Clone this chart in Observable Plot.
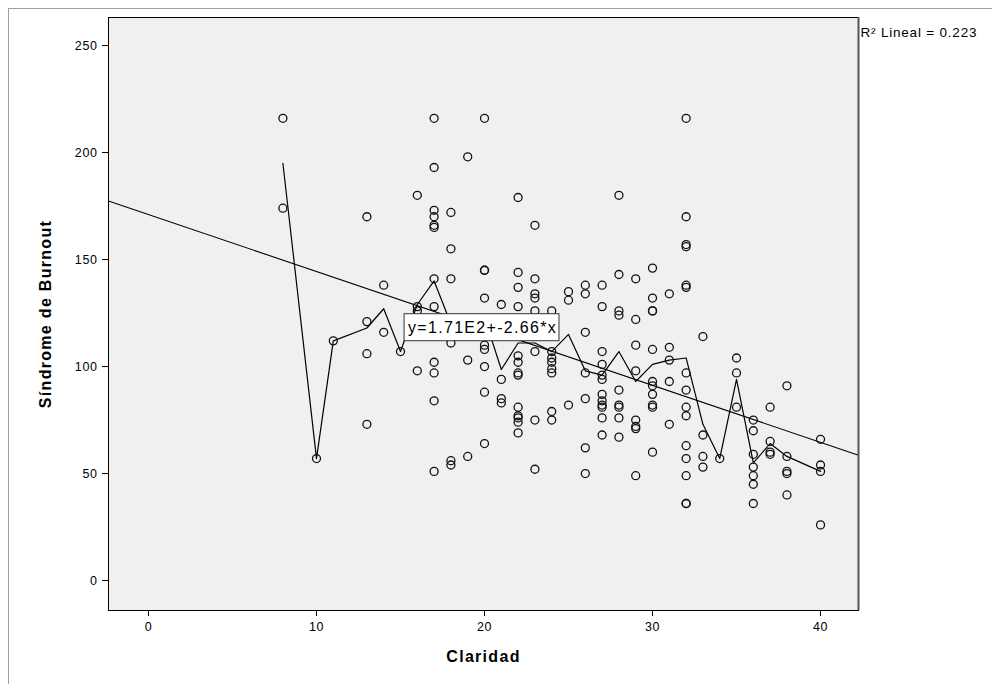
<!DOCTYPE html>
<html><head><meta charset="utf-8">
<script src="https://cdn.jsdelivr.net/npm/d3@7"></script>
<script src="https://cdn.jsdelivr.net/npm/@observablehq/plot@0.6"></script>
<style>
body{margin:0;background:#fff;}
#chart svg{display:block;font-family:"Liberation Sans",Arial,sans-serif;}
</style>
</head><body><div id="chart"></div>
<script>
// Claridad (x) and Síndrome de Burnout (y) for each respondent
const claridad = [
  8,8,
  10,
  11,
  13,13,13,13,
  14,14,
  15,
  16,16,16,16,
  17,17,17,17,17,17,17,17,17,17,17,17,
  18,18,18,18,18,18,
  19,19,19,
  20,20,20,20,20,20,20,20,20,
  21,21,21,21,
  22,22,22,22,22,22,22,22,22,22,22,22,22,
  23,23,23,23,23,23,23,23,
  24,24,24,24,24,24,24,24,
  25,25,25,
  26,26,26,26,26,26,26,
  27,27,27,27,27,27,27,27,27,27,27,27,
  28,28,28,28,28,28,28,28,28,
  29,29,29,29,29,29,29,29,
  30,30,30,30,30,30,30,30,30,30,30,
  31,31,31,31,31,
  32,32,32,32,32,32,32,32,32,32,32,32,32,32,32,
  33,33,33,33,
  34,
  35,35,35,
  36,36,36,36,36,36,36,
  37,37,37,37,
  38,38,38,38,38,
  40,40,40,40
];
const burnout = [
  216,174,
  57,
  112,
  170,121,106,73,
  138,116,
  107,
  180,128,126,98,
  216,193,173,170,166,165,141,128,102,97,84,51,
  172,155,141,111,56,54,
  198,103,58,
  216,145,145,132,110,108,100,88,64,
  129,94,85,83,
  179,144,137,128,105,102,97,96,81,77,76,74,69,
  166,141,134,132,126,107,75,52,
  126,107,104,102,99,97,79,75,
  135,131,82,
  138,134,116,97,85,62,50,
  138,128,107,101,96,94,87,84,82,81,76,68,
  180,143,126,124,89,82,81,76,67,
  141,122,110,98,75,72,71,49,
  146,132,126,126,108,93,91,87,82,81,60,
  134,109,103,93,73,
  216,170,157,156,138,137,97,89,81,77,63,57,49,36,36,
  114,68,58,53,
  57,
  104,97,81,
  75,70,59,53,49,45,36,
  81,65,60,59,
  91,58,51,50,40,
  66,54,51,26
];
// Jagged fit line (mean of Burnout at each Claridad value)
const meanX = [8,10,11,13,14,15,16,17,18,19,20,21,22,23,24,25,26,27,28,29,30,31,32,33,34,35,36,37,38,40];
const meanY = [195,57,112,118,127,107,129,140,120,118,123,98.6,111,111,107,115,98,96,107,93,101,103,104,73,57,94,55,64,58,51];
// Linear fit shown on chart
const fitIntercept = 171;
const fitSlope = -2.66;
const fitLabel = "y=1.71E2+-2.66*x";
const r2Label = "R\u00B2 Lineal = 0.223";
const xTicks = [0,10,20,30,40];
const yTicks = [0,50,100,150,200,250];
const xTitle = "Claridad";
const yTitle = "Síndrome de Burnout";

const points = claridad.map((x, i) => ({x, y: burnout[i]}));
const meanLine = meanX.map((x, i) => ({x, y: meanY[i]}));
const xDomain = [-2.38, 42.26];
const yDomain = [-14, 263.1];
const fitLine = xDomain.map(x => ({x, y: fitIntercept + fitSlope * x}));

const chart = Plot.plot({
  width: 992,
  height: 684,
  marginLeft: 108,
  marginRight: 134,
  marginTop: 17,
  marginBottom: 74,
  style: {fontSize: "12.5px", fontFamily: '"Liberation Sans", Arial, sans-serif', color: "black", background: "white"},
  x: {domain: xDomain},
  y: {domain: yDomain},
  marks: [
    Plot.frame({fill: "#f0f0f0", stroke: "none"}),
    Plot.axisX(xTicks, {tickSize: 6, tickPadding: 6, label: null, fontSize: 12.5, className: "tick-lab"}),
    Plot.axisY(yTicks, {tickSize: 6, tickPadding: 5, label: null, fontSize: 12.5, className: "tick-lab"}),
    Plot.line(fitLine, {x: "x", y: "y", stroke: "black", strokeWidth: 1.1}),
    Plot.line(meanLine, {x: "x", y: "y", stroke: "black", strokeWidth: 1.2}),
    Plot.dot(points, {x: "x", y: "y", r: 4, stroke: "#111", strokeWidth: 1.3, fill: "none"}),
    Plot.text([fitLabel], {x: 15.45, y: 118.2, textAnchor: "start", fontSize: 16, fill: "black", className: "fit-label"}),
    Plot.frame({stroke: "black", strokeWidth: 1}),
    Plot.text([r2Label], {frameAnchor: "top-right", dx: 2, dy: 10, textAnchor: "start", fontSize: 13.5, fill: "black", className: "r2-label"}),
    Plot.text([xTitle], {frameAnchor: "bottom", dy: 51, textAnchor: "middle", fontSize: 16, fontWeight: "bold", fill: "black", className: "axis-title"}),
    Plot.text([yTitle], {frameAnchor: "left", dx: -63, rotate: -90, textAnchor: "middle", fontSize: 16, fontWeight: "bold", fill: "black", className: "axis-title"})
  ]
});
document.getElementById("chart").appendChild(chart);

// letter spacing for SPSS-like wide text
d3.select(chart).selectAll(".axis-title text").attr("letter-spacing", "1.3px");
d3.select(chart).selectAll(".fit-label text").attr("letter-spacing", "1.3px");
d3.select(chart).selectAll(".r2-label text").attr("letter-spacing", "0.8px");
d3.select(chart).selectAll(".tick-lab text").attr("letter-spacing", "0.6px");

// white box behind the equation label
d3.select(chart).selectAll(".fit-label text").each(function() {
  const b = this.getBBox();
  const t = this.getAttribute("transform");
  const g = this.parentNode;
  const rect = document.createElementNS("http://www.w3.org/2000/svg", "rect");
  rect.setAttribute("x", b.x - 4);
  rect.setAttribute("y", b.y - 5);
  rect.setAttribute("width", b.width + 6);
  rect.setAttribute("height", b.height + 10);
  rect.setAttribute("fill", "white");
  rect.setAttribute("stroke", "#333");
  rect.setAttribute("stroke-width", "1");
  if (t) rect.setAttribute("transform", t);
  g.insertBefore(rect, this);
});

// darker right edge of the plot frame, and outer output frame lines
const svg = d3.select(chart);
svg.append("line").attr("x1", 858.5).attr("x2", 858.5).attr("y1", 17).attr("y2", 610).attr("stroke", "#555").attr("stroke-width", 2);
svg.append("line").attr("x1", 8).attr("x2", 992).attr("y1", 8.5).attr("y2", 8.5).attr("stroke", "#a0a0a0");
svg.append("line").attr("x1", 8.5).attr("x2", 8.5).attr("y1", 8).attr("y2", 684).attr("stroke", "#a0a0a0");
</script>
</body></html>
